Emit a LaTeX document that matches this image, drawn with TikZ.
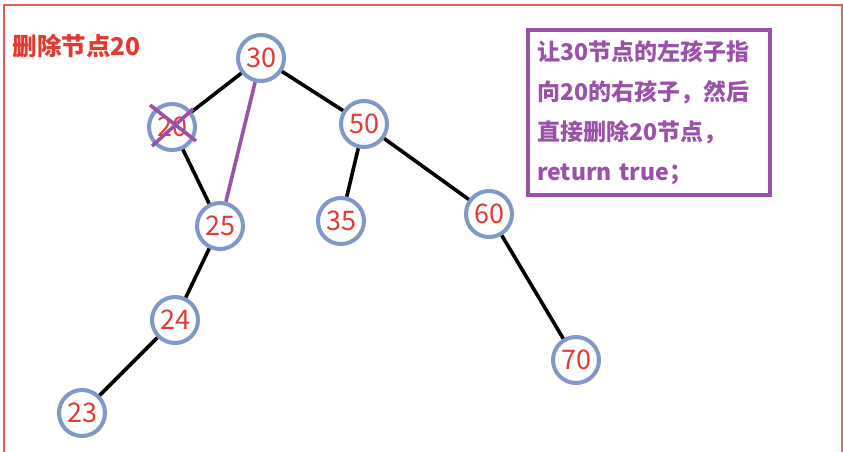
\documentclass[tikz,border=0pt]{standalone}
\usepackage{fontspec}
\newfontfamily\cjk{Noto Sans CJK SC}
\usetikzlibrary{positioning}

\definecolor{numred}{HTML}{E23A30}
\definecolor{ringblue}{HTML}{7E98C8}
\definecolor{notepurple}{HTML}{9A52A8}
\definecolor{framered}{HTML}{E2605C}

\begin{document}
\begin{tikzpicture}[on grid, x=1pt, y=1pt,
	bst/.style={circle, draw=ringblue, line width=4pt, minimum size=46pt, inner sep=0pt,
		text=numred, font=\cjk\fontsize{27}{27}\selectfont},
	link/.style={line width=3.6pt, black},
	cross/.style={line width=3.6pt, notepurple}]
	\useasboundingbox (0,0) rectangle (843,-452);
	\draw[framered, line width=1.5pt] (4,-460) -- (4,-5) -- (842,-5) -- (842,-460);
	\node[anchor=west, text=numred, font=\cjk\bfseries\fontsize{24.5}{24.5}\selectfont] (title) at (9,-46) {删除节点20};
	\node[bst] (n30) at (261,-58) {30};
	\node[bst] (n20) [below left = 69pt and 89pt of n30] {20};
	\node[bst] (n50) [below right = 66pt and 103pt of n30] {50};
	\node[bst] (n25) [below right = 99pt and 48pt of n20] {25};
	\node[bst] (n24) [below left = 94pt and 45pt of n25] {24};
	\node[bst] (n23) [below left = 93pt and 93pt of n24] {23};
	\node[bst] (n35) [below left = 97pt and 23pt of n50] {35};
	\node[bst] (n60) [below right = 90pt and 125pt of n50] {60};
	\node[bst] (n70) [below right = 146pt and 87pt of n60] {70};
	\draw[link] (n30) -- (n20);
	\draw[link] (n30) -- (n50);
	\draw[link] (n20) -- (n25);
	\draw[link] (n25) -- (n24);
	\draw[link] (n24) -- (n23);
	\draw[link] (n50) -- (n35);
	\draw[link] (n50) -- (n60);
	\draw[link] (n60) -- (n70);
	% new link and the deleted node
	\draw[cross] (n30) -- (n25);
	\draw[cross] ([shift={(-22pt,22pt)}]n20.center) -- ([shift={(24pt,-14pt)}]n20.center);
	\draw[cross] ([shift={(21pt,18pt)}]n20.center) -- ([shift={(-20pt,-19pt)}]n20.center);
	\node[draw=notepurple, line width=3.2pt, minimum width=242pt, minimum height=165pt,
		text width=224pt, align=left, text=notepurple,
		font=\cjk\bfseries\fontsize{23}{40}\selectfont] (note) at (649,-112.5)
		{让30节点的左孩子指\\向20的右孩子，然后\\直接删除20节点，\\return true；};
\end{tikzpicture}
\end{document}
